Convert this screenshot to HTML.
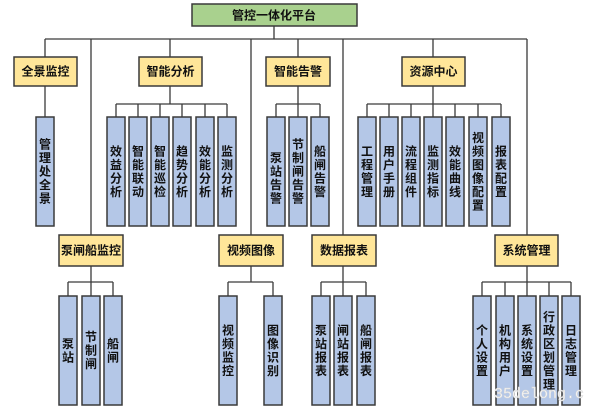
<!DOCTYPE html>
<html><head><meta charset="utf-8"><style>
html,body{margin:0;padding:0;background:#fff;width:600px;height:409px;overflow:hidden}
svg{display:block}
text{font-family:"Liberation Sans","Noto Sans CJK SC","WenQuanYi Zen Hei",sans-serif;font-weight:bold;fill:#111}
.g{fill:#a9d18e;stroke:#3a3a3a;stroke-width:1.5}
.y{fill:#ffe699;stroke:#3a3a3a;stroke-width:1.5}
.b{fill:#b4c7e7;stroke:#3a3a3a;stroke-width:1.5}
.l{stroke:#3a3a3a;stroke-width:1.3;fill:none}
.h{font-size:12px}
.v{font-size:12px}
</style></head><body>
<svg width="600" height="409" viewBox="0 0 600 409" xmlns="http://www.w3.org/2000/svg">
<!-- connectors -->
<path class="l" d="M274 26V39M45 39H527M45 39V57M91 39V235M170 39V57M251 39V235M298 39V57M343 39V235M433 39V57M527 39V235"/>
<path class="l" d="M45 86V117"/>
<path class="l" d="M170 86V104M116 104H227M116 104V117M138 104V117M160 104V117M182 104V117M205 104V117M227 104V117"/>
<path class="l" d="M298 86V104M276 104H320M276 104V117M298 104V117M320 104V117"/>
<path class="l" d="M433 86V104M367 104H501M367 104V117M389 104V117M411 104V117M433 104V117M455 104V117M478 104V117M501 104V117"/>
<path class="l" d="M91 266V282M68 282H113M68 282V296M91 282V296M113 282V296"/>
<path class="l" d="M251 266V282M228 282H273M228 282V296M273 282V296"/>
<path class="l" d="M343 266V282M321 282H366M321 282V296M343 282V296M366 282V296"/>
<path class="l" d="M527 266V282M482 282H571M482 282V296M505 282V296M527 282V296M549 282V296M571 282V296"/>
<!-- root -->
<rect class="g" x="192" y="4" width="165" height="22"/>
<text class="h" x="274" y="19.5" text-anchor="middle">管控一体化平台</text>
<!-- level1 -->
<rect class="y" x="14" y="57" width="63" height="29"/><text class="h" x="45.5" y="75.5" text-anchor="middle">全景监控</text>
<rect class="y" x="139" y="57" width="63" height="29"/><text class="h" x="170.5" y="75.5" text-anchor="middle">智能分析</text>
<rect class="y" x="266" y="57" width="64" height="29"/><text class="h" x="298" y="75.5" text-anchor="middle">智能告警</text>
<rect class="y" x="402" y="57" width="63" height="29"/><text class="h" x="433.5" y="75.5" text-anchor="middle">资源中心</text>
<rect class="y" x="59" y="235" width="64" height="31"/><text class="h" x="91" y="254.5" text-anchor="middle">泵闸船监控</text>
<rect class="y" x="219" y="235" width="64" height="31"/><text class="h" x="251" y="254.5" text-anchor="middle">视频图像</text>
<rect class="y" x="312" y="235" width="64" height="31"/><text class="h" x="344" y="254.5" text-anchor="middle">数据报表</text>
<rect class="y" x="495" y="235" width="63" height="31"/><text class="h" x="526.5" y="254.5" text-anchor="middle">系统管理</text>
<!-- top row leaves -->
<rect class="b" x="36" y="117" width="18" height="109"/><text class="v" x="45" y="148.5" text-anchor="middle"><tspan x="45">管</tspan><tspan x="45" dy="13.5">理</tspan><tspan x="45" dy="13.5">处</tspan><tspan x="45" dy="13.5">全</tspan><tspan x="45" dy="13.5">景</tspan></text>

<rect class="b" x="107" y="117" width="18" height="109"/><text class="v" x="116" y="155.25" text-anchor="middle"><tspan x="116">效</tspan><tspan x="116" dy="13.5">益</tspan><tspan x="116" dy="13.5">分</tspan><tspan x="116" dy="13.5">析</tspan></text>
<rect class="b" x="129" y="117" width="18" height="109"/><text class="v" x="138" y="155.25" text-anchor="middle"><tspan x="138">智</tspan><tspan x="138" dy="13.5">能</tspan><tspan x="138" dy="13.5">联</tspan><tspan x="138" dy="13.5">动</tspan></text>
<rect class="b" x="151" y="117" width="18" height="109"/><text class="v" x="160" y="155.25" text-anchor="middle"><tspan x="160">智</tspan><tspan x="160" dy="13.5">能</tspan><tspan x="160" dy="13.5">巡</tspan><tspan x="160" dy="13.5">检</tspan></text>
<rect class="b" x="173" y="117" width="18" height="109"/><text class="v" x="182" y="155.25" text-anchor="middle"><tspan x="182">趋</tspan><tspan x="182" dy="13.5">势</tspan><tspan x="182" dy="13.5">分</tspan><tspan x="182" dy="13.5">析</tspan></text>
<rect class="b" x="196" y="117" width="18" height="109"/><text class="v" x="205" y="155.25" text-anchor="middle"><tspan x="205">效</tspan><tspan x="205" dy="13.5">能</tspan><tspan x="205" dy="13.5">分</tspan><tspan x="205" dy="13.5">析</tspan></text>
<rect class="b" x="218" y="117" width="18" height="109"/><text class="v" x="227" y="155.25" text-anchor="middle"><tspan x="227">监</tspan><tspan x="227" dy="13.5">测</tspan><tspan x="227" dy="13.5">分</tspan><tspan x="227" dy="13.5">析</tspan></text>

<rect class="b" x="267" y="117" width="18" height="109"/><text class="v" x="276" y="162" text-anchor="middle"><tspan x="276">泵</tspan><tspan x="276" dy="13.5">站</tspan><tspan x="276" dy="13.5">告</tspan><tspan x="276" dy="13.5">警</tspan></text>
<rect class="b" x="289" y="117" width="18" height="109"/><text class="v" x="298" y="148.5" text-anchor="middle"><tspan x="298">节</tspan><tspan x="298" dy="13.5">制</tspan><tspan x="298" dy="13.5">闸</tspan><tspan x="298" dy="13.5">告</tspan><tspan x="298" dy="13.5">警</tspan></text>
<rect class="b" x="311" y="117" width="18" height="109"/><text class="v" x="320" y="155.25" text-anchor="middle"><tspan x="320">船</tspan><tspan x="320" dy="13.5">闸</tspan><tspan x="320" dy="13.5">告</tspan><tspan x="320" dy="13.5">警</tspan></text>

<rect class="b" x="358" y="117" width="18" height="109"/><text class="v" x="367" y="155.25" text-anchor="middle"><tspan x="367">工</tspan><tspan x="367" dy="13.5">程</tspan><tspan x="367" dy="13.5">管</tspan><tspan x="367" dy="13.5">理</tspan></text>
<rect class="b" x="380" y="117" width="18" height="109"/><text class="v" x="389" y="155.25" text-anchor="middle"><tspan x="389">用</tspan><tspan x="389" dy="13.5">户</tspan><tspan x="389" dy="13.5">手</tspan><tspan x="389" dy="13.5">册</tspan></text>
<rect class="b" x="402" y="117" width="18" height="109"/><text class="v" x="411" y="155.25" text-anchor="middle"><tspan x="411">流</tspan><tspan x="411" dy="13.5">程</tspan><tspan x="411" dy="13.5">组</tspan><tspan x="411" dy="13.5">件</tspan></text>
<rect class="b" x="424" y="117" width="18" height="109"/><text class="v" x="433" y="155.25" text-anchor="middle"><tspan x="433">监</tspan><tspan x="433" dy="13.5">测</tspan><tspan x="433" dy="13.5">指</tspan><tspan x="433" dy="13.5">标</tspan></text>
<rect class="b" x="446" y="117" width="18" height="109"/><text class="v" x="455" y="155.25" text-anchor="middle"><tspan x="455">效</tspan><tspan x="455" dy="13.5">能</tspan><tspan x="455" dy="13.5">曲</tspan><tspan x="455" dy="13.5">线</tspan></text>
<rect class="b" x="469" y="117" width="18" height="109"/><text class="v" x="478" y="141.75" text-anchor="middle"><tspan x="478">视</tspan><tspan x="478" dy="13.5">频</tspan><tspan x="478" dy="13.5">图</tspan><tspan x="478" dy="13.5">像</tspan><tspan x="478" dy="13.5">配</tspan><tspan x="478" dy="13.5">置</tspan></text>
<rect class="b" x="492" y="117" width="18" height="109"/><text class="v" x="501" y="155.25" text-anchor="middle"><tspan x="501">报</tspan><tspan x="501" dy="13.5">表</tspan><tspan x="501" dy="13.5">配</tspan><tspan x="501" dy="13.5">置</tspan></text>

<!-- bottom row leaves -->
<rect class="b" x="59" y="296" width="18" height="109"/><text class="v" x="68" y="347.75" text-anchor="middle"><tspan x="68">泵</tspan><tspan x="68" dy="13.5">站</tspan></text>
<rect class="b" x="82" y="296" width="18" height="109"/><text class="v" x="91" y="341" text-anchor="middle"><tspan x="91">节</tspan><tspan x="91" dy="13.5">制</tspan><tspan x="91" dy="13.5">闸</tspan></text>
<rect class="b" x="104" y="296" width="18" height="109"/><text class="v" x="113" y="347.75" text-anchor="middle"><tspan x="113">船</tspan><tspan x="113" dy="13.5">闸</tspan></text>

<rect class="b" x="219" y="296" width="18" height="109"/><text class="v" x="228" y="334.25" text-anchor="middle"><tspan x="228">视</tspan><tspan x="228" dy="13.5">频</tspan><tspan x="228" dy="13.5">监</tspan><tspan x="228" dy="13.5">控</tspan></text>
<rect class="b" x="264" y="296" width="18" height="109"/><text class="v" x="273" y="334.25" text-anchor="middle"><tspan x="273">图</tspan><tspan x="273" dy="13.5">像</tspan><tspan x="273" dy="13.5">识</tspan><tspan x="273" dy="13.5">别</tspan></text>

<rect class="b" x="312" y="296" width="18" height="109"/><text class="v" x="321" y="334.25" text-anchor="middle"><tspan x="321">泵</tspan><tspan x="321" dy="13.5">站</tspan><tspan x="321" dy="13.5">报</tspan><tspan x="321" dy="13.5">表</tspan></text>
<rect class="b" x="334" y="296" width="18" height="109"/><text class="v" x="343" y="334.25" text-anchor="middle"><tspan x="343">闸</tspan><tspan x="343" dy="13.5">站</tspan><tspan x="343" dy="13.5">报</tspan><tspan x="343" dy="13.5">表</tspan></text>
<rect class="b" x="357" y="296" width="18" height="109"/><text class="v" x="366" y="334.25" text-anchor="middle"><tspan x="366">船</tspan><tspan x="366" dy="13.5">闸</tspan><tspan x="366" dy="13.5">报</tspan><tspan x="366" dy="13.5">表</tspan></text>

<rect class="b" x="473" y="296" width="18" height="109"/><text class="v" x="482" y="334.25" text-anchor="middle"><tspan x="482">个</tspan><tspan x="482" dy="13.5">人</tspan><tspan x="482" dy="13.5">设</tspan><tspan x="482" dy="13.5">置</tspan></text>
<rect class="b" x="496" y="296" width="18" height="109"/><text class="v" x="505" y="334.25" text-anchor="middle"><tspan x="505">机</tspan><tspan x="505" dy="13.5">构</tspan><tspan x="505" dy="13.5">用</tspan><tspan x="505" dy="13.5">户</tspan></text>
<rect class="b" x="518" y="296" width="18" height="109"/><text class="v" x="527" y="334.25" text-anchor="middle"><tspan x="527">系</tspan><tspan x="527" dy="13.5">统</tspan><tspan x="527" dy="13.5">设</tspan><tspan x="527" dy="13.5">置</tspan></text>
<rect class="b" x="540" y="296" width="18" height="109"/><text class="v" x="549" y="320.75" text-anchor="middle"><tspan x="549">行</tspan><tspan x="549" dy="13.5">政</tspan><tspan x="549" dy="13.5">区</tspan><tspan x="549" dy="13.5">划</tspan><tspan x="549" dy="13.5">管</tspan><tspan x="549" dy="13.5">理</tspan></text>
<rect class="b" x="562" y="296" width="18" height="109"/><text class="v" x="571" y="334.25" text-anchor="middle"><tspan x="571">日</tspan><tspan x="571" dy="13.5">志</tspan><tspan x="571" dy="13.5">管</tspan><tspan x="571" dy="13.5">理</tspan></text>

<!-- watermark -->
<text x="494" y="398" style="font-family:'Liberation Mono',monospace;font-size:15px;font-weight:normal;fill:#ffffff;stroke:#d8d8d8;stroke-width:0.6">35delong.c</text>
</svg>
</body></html>
